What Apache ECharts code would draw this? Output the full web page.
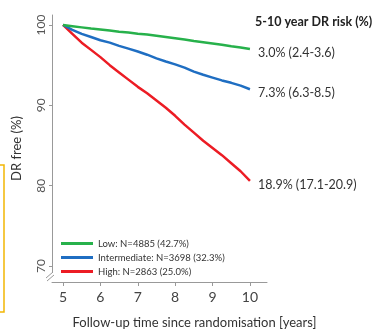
<!DOCTYPE html>
<html>
<head>
<meta charset="utf-8">
<script src="https://cdn.jsdelivr.net/npm/echarts@6/dist/echarts.min.js"></script>
<style>
  html, body { margin: 0; padding: 0; background: #fff; }
  #chart { width: 379px; height: 334px; }
</style>
</head>
<body>
<div id="chart"></div>
<script>
// follow-up years (read every quarter year off the picture)
const years = [5, 5.25, 5.5, 5.75, 6, 6.25, 6.5, 6.75, 7, 7.25, 7.5, 7.75, 8, 8.25, 8.5, 8.75, 9, 9.25, 9.5, 9.75, 10]

const lowFree = [100, 99.85, 99.7, 99.55, 99.45, 99.3, 99.15, 99.05, 98.9, 98.8, 98.65, 98.5, 98.35, 98.2, 98.0, 97.85, 97.7, 97.55, 97.35, 97.2, 97.0]
const intFree = [100, 99.4, 98.9, 98.5, 98.1, 97.8, 97.4, 97.05, 96.7, 96.3, 95.85, 95.45, 95.1, 94.7, 94.2, 93.8, 93.45, 93.1, 92.8, 92.45, 92.0]
const highFree = [100, 98.9, 97.8, 96.9, 96.0, 95.0, 94.1, 93.2, 92.3, 91.5, 90.6, 89.7, 88.7, 87.6, 86.6, 85.6, 84.7, 83.8, 82.8, 81.8, 80.6]

const groupNames = ['Low: N=4885 (42.7%)', 'Intermediate: N=3698 (32.3%)', 'High: N=2863 (25.0%)']
const riskLabels = ['3.0% (2.4-3.6)', '7.3% (6.3-8.5)', '18.9% (17.1-20.9)']
const colors = ['#27b14b', '#1f6ec2', '#ec1c24']

const xTicks = [5, 6, 7, 8, 9, 10]
const yTicks = [70, 80, 90, 100]

const font = 'Lato'
const chart = echarts.init(document.getElementById('chart'))

function pairs(vals) {
  return years.map((y, i) => [y, vals[i]])
}

const allVals = [lowFree, intFree, highFree]
const series = allVals.map((vals, i) => ({
  name: groupNames[i],
  type: 'line',
  data: pairs(vals),
  showSymbol: false,
  symbol: 'none',
  lineStyle: { color: colors[i], width: 2.5 },
  itemStyle: { color: colors[i] },
  endLabel: {
    show: true,
    formatter: riskLabels[i],
    distance: 8,
    offset: [0, 4],
    fontFamily: font,
    fontSize: 12.5,
    color: '#333'
  },
  z: 3 - i
}))

chart.setOption({
  animation: false,
  backgroundColor: '#fff',
  title: {
    text: '5-10 year DR risk (%)',
    left: 250,
    top: 10,
    textStyle: { fontFamily: font, fontSize: 12.5, fontWeight: 'bold', color: '#222' }
  },
  legend: {
    orient: 'vertical',
    left: 56,
    top: 233,
    icon: 'rect',
    itemWidth: 32,
    itemHeight: 3,
    itemGap: 3,
    textStyle: { fontFamily: font, fontSize: 9.5, color: '#333', lineHeight: 11 },
    data: groupNames
  },
  grid: { left: 52, right: 112, top: 15, bottom: 51, containLabel: false },
  xAxis: {
    type: 'value',
    min: 4.706,
    max: 10.456,
    name: 'Follow-up time since randomisation [years]',
    nameLocation: 'middle',
    nameGap: 34,
    nameTextStyle: { fontFamily: font, fontSize: 13, color: '#333', padding: [0, 0, 0, 70] },
    axisLine: { lineStyle: { color: '#999', width: 1 } },
    axisTick: { customValues: xTicks, length: 4, lineStyle: { color: '#999' } },
    axisLabel: { customValues: xTicks, fontFamily: font, fontSize: 14, color: '#444', margin: 8 },
    splitLine: { show: false }
  },
  yAxis: {
    type: 'value',
    min: 68.02,
    max: 101.24,
    name: 'DR free (%)',
    nameLocation: 'middle',
    nameGap: 29,
    nameTextStyle: { fontFamily: font, fontSize: 13, color: '#333' },
    axisLine: { show: true, lineStyle: { color: '#999', width: 1 } },
    axisTick: { customValues: yTicks, length: 3, lineStyle: { color: '#999' } },
    axisLabel: { customValues: yTicks, rotate: 90, fontFamily: font, fontSize: 12, color: '#555', margin: 5 },
    splitLine: { show: false }
  },
  graphic: [
    // gap in the y axis line above the x axis, with a break mark
    { type: 'rect', shape: { x: 49, y: 273, width: 6, height: 9 }, style: { fill: '#fff' }, z: 50 },
    { type: 'line', shape: { x1: 46, y1: 278, x2: 53, y2: 272 }, style: { stroke: '#999', lineWidth: 1 }, z: 51 },
    { type: 'line', shape: { x1: 47, y1: 281, x2: 54, y2: 275 }, style: { stroke: '#999', lineWidth: 1 }, z: 51 },
    // yellow bracket at the left edge
    { type: 'polyline', shape: { points: [[0, 165], [4, 165], [4, 312], [0, 312]] }, style: { stroke: '#f2b705', lineWidth: 1.5, fill: null }, z: 10 }
  ],
  series: series
})
</script>
</body>
</html>
